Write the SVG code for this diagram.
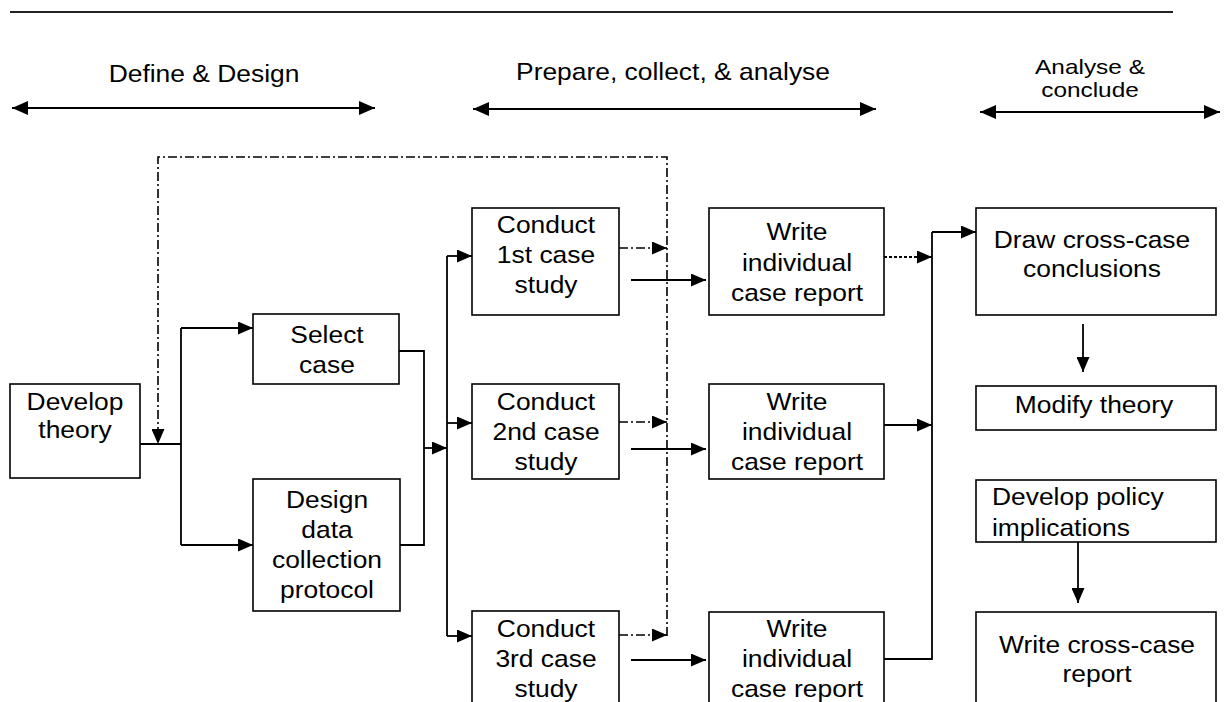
<svg xmlns="http://www.w3.org/2000/svg" width="1229" height="702" viewBox="0 0 1229 702">
<style>
text{font-family:"Liberation Sans",Arial,sans-serif;font-size:24px;fill:#000}
.c{text-anchor:middle}
.sm{font-size:20px}
.box{fill:#fff;stroke:#000;stroke-width:1.6}
.ln{fill:none;stroke:#000;stroke-width:1.8}
.dd{fill:none;stroke:#000;stroke-width:1.6;stroke-dasharray:9 3 2 3}
.dt{fill:none;stroke:#000;stroke-width:1.8;stroke-dasharray:3 2}
</style>
<defs>
<marker id="ah" markerUnits="userSpaceOnUse" markerWidth="15" markerHeight="13" refX="15" refY="6.5" orient="auto"><path d="M0,0 L15,6.5 L0,13 z" fill="#000"/></marker>
<marker id="hh" markerUnits="userSpaceOnUse" markerWidth="16" markerHeight="14" refX="16" refY="7" orient="auto-start-reverse"><path d="M0,0 L16,7 L0,14 z" fill="#000"/></marker>
</defs>
<rect width="1229" height="702" fill="#fff"/>
<line x1="10" y1="12" x2="1173" y2="12" stroke="#222" stroke-width="2"/>
<g id="phase-define">
<text class="c" transform="translate(204,0) scale(1.1,1)" x="0" y="82">Define &amp; Design</text>
<line class="ln" x1="12" y1="108" x2="375" y2="108" marker-start="url(#hh)" marker-end="url(#hh)"/>
</g>
<g id="phase-prepare">
<text class="c" transform="translate(673,0) scale(1.1,1)" x="0" y="80">Prepare, collect, &amp; analyse</text>
<line class="ln" x1="473" y1="109" x2="876" y2="109" marker-start="url(#hh)" marker-end="url(#hh)"/>
</g>
<g id="phase-analyse">
<text class="c sm" transform="translate(1090,0) scale(1.22,1)"><tspan x="0" y="74">Analyse &amp;</tspan><tspan x="0" y="97">conclude</tspan></text>
<line class="ln" x1="980" y1="112" x2="1220" y2="112" marker-start="url(#hh)" marker-end="url(#hh)"/>
</g>
<g id="connectors">
<polyline class="dd" points="667,636 667,157 158,157 158,444" marker-end="url(#ah)"/>
<line class="ln" x1="132" y1="444" x2="181" y2="444"/>
<line class="ln" x1="181" y1="328" x2="181" y2="545"/>
<line class="ln" x1="181" y1="328" x2="253" y2="328" marker-end="url(#ah)"/>
<line class="ln" x1="181" y1="545" x2="253" y2="545" marker-end="url(#ah)"/>
<polyline class="ln" points="399,351 424,351 424,545 400,545"/>
<line class="ln" x1="424" y1="448" x2="447" y2="448" marker-end="url(#ah)"/>
<line class="ln" x1="447" y1="256" x2="447" y2="636"/>
<line class="ln" x1="447" y1="256" x2="472" y2="256" marker-end="url(#ah)"/>
<line class="ln" x1="447" y1="423" x2="472" y2="423" marker-end="url(#ah)"/>
<line class="ln" x1="447" y1="636" x2="472" y2="636" marker-end="url(#ah)"/>
<line class="dd" x1="619" y1="248" x2="667" y2="248" marker-end="url(#ah)"/>
<line class="dd" x1="619" y1="422" x2="667" y2="422" marker-end="url(#ah)"/>
<line class="dd" x1="619" y1="635" x2="667" y2="635" marker-end="url(#ah)"/>
<line class="ln" x1="631" y1="280" x2="706" y2="280" marker-end="url(#ah)"/>
<line class="ln" x1="631" y1="449" x2="706" y2="449" marker-end="url(#ah)"/>
<line class="ln" x1="631" y1="660" x2="706" y2="660" marker-end="url(#ah)"/>
<line class="dt" x1="884" y1="257" x2="932" y2="257" marker-end="url(#ah)"/>
<line class="ln" x1="884" y1="425" x2="932" y2="425" marker-end="url(#ah)"/>
<polyline class="ln" points="884,659 932,659 932,232"/>
<line class="ln" x1="932" y1="232" x2="976" y2="232" marker-end="url(#ah)"/>
<line class="ln" x1="1083" y1="324" x2="1083" y2="372" marker-end="url(#ah)"/>
<line class="ln" x1="1078" y1="542" x2="1078" y2="603" marker-end="url(#ah)"/>
</g>
<g id="develop-theory">
<rect class="box" x="10" y="384" width="130" height="94"/>
<text class="c" transform="translate(75,0) scale(1.1,1)"><tspan x="0" y="410">Develop</tspan><tspan x="0" y="438">theory</tspan></text>
</g>
<g id="select-case">
<rect class="box" x="253" y="314" width="146" height="70"/>
<text class="c" transform="translate(327,0) scale(1.1,1)"><tspan x="0" y="343">Select</tspan><tspan x="0" y="373">case</tspan></text>
</g>
<g id="design-protocol">
<rect class="box" x="253" y="479" width="147" height="132"/>
<text class="c" transform="translate(327,0) scale(1.1,1)"><tspan x="0" y="508">Design</tspan><tspan x="0" y="538">data</tspan><tspan x="0" y="568">collection</tspan><tspan x="0" y="598">protocol</tspan></text>
</g>
<g id="conduct-1">
<rect class="box" x="472" y="208" width="147" height="107"/>
<text class="c" transform="translate(546,0) scale(1.1,1)"><tspan x="0" y="233">Conduct</tspan><tspan x="0" y="263">1st case</tspan><tspan x="0" y="293">study</tspan></text>
</g>
<g id="conduct-2">
<rect class="box" x="472" y="384" width="147" height="95"/>
<text class="c" transform="translate(546,0) scale(1.1,1)"><tspan x="0" y="410">Conduct</tspan><tspan x="0" y="440">2nd case</tspan><tspan x="0" y="470">study</tspan></text>
</g>
<g id="conduct-3">
<rect class="box" x="472" y="611" width="147" height="100"/>
<text class="c" transform="translate(546,0) scale(1.1,1)"><tspan x="0" y="637">Conduct</tspan><tspan x="0" y="667">3rd case</tspan><tspan x="0" y="697">study</tspan></text>
</g>
<g id="write-report-1">
<rect class="box" x="709" y="208" width="175" height="107"/>
<text class="c" transform="translate(797,0) scale(1.1,1)"><tspan x="0" y="240">Write</tspan><tspan x="0" y="271">individual</tspan><tspan x="0" y="301">case report</tspan></text>
</g>
<g id="write-report-2">
<rect class="box" x="709" y="384" width="175" height="95"/>
<text class="c" transform="translate(797,0) scale(1.1,1)"><tspan x="0" y="410">Write</tspan><tspan x="0" y="440">individual</tspan><tspan x="0" y="470">case report</tspan></text>
</g>
<g id="write-report-3">
<rect class="box" x="709" y="612" width="175" height="100"/>
<text class="c" transform="translate(797,0) scale(1.1,1)"><tspan x="0" y="637">Write</tspan><tspan x="0" y="667">individual</tspan><tspan x="0" y="697">case report</tspan></text>
</g>
<g id="draw-conclusions">
<rect class="box" x="976" y="208" width="240" height="107"/>
<text class="c" transform="translate(1092,0) scale(1.1,1)"><tspan x="0" y="248">Draw cross-case</tspan><tspan x="0" y="277">conclusions</tspan></text>
</g>
<g id="modify-theory">
<rect class="box" x="976" y="386" width="240" height="44"/>
<text class="c" transform="translate(1094,0) scale(1.1,1)" x="0" y="413">Modify theory</text>
</g>
<g id="develop-policy">
<rect class="box" x="976" y="480" width="240" height="62"/>
<text transform="translate(992,0) scale(1.1,1)"><tspan x="0" y="505">Develop policy</tspan><tspan x="0" y="536">implications</tspan></text>
</g>
<g id="write-cross-case">
<rect class="box" x="976" y="612" width="240" height="100"/>
<text class="c" transform="translate(1097,0) scale(1.1,1)"><tspan x="0" y="653">Write cross-case</tspan><tspan x="0" y="682">report</tspan></text>
</g>
</svg>
